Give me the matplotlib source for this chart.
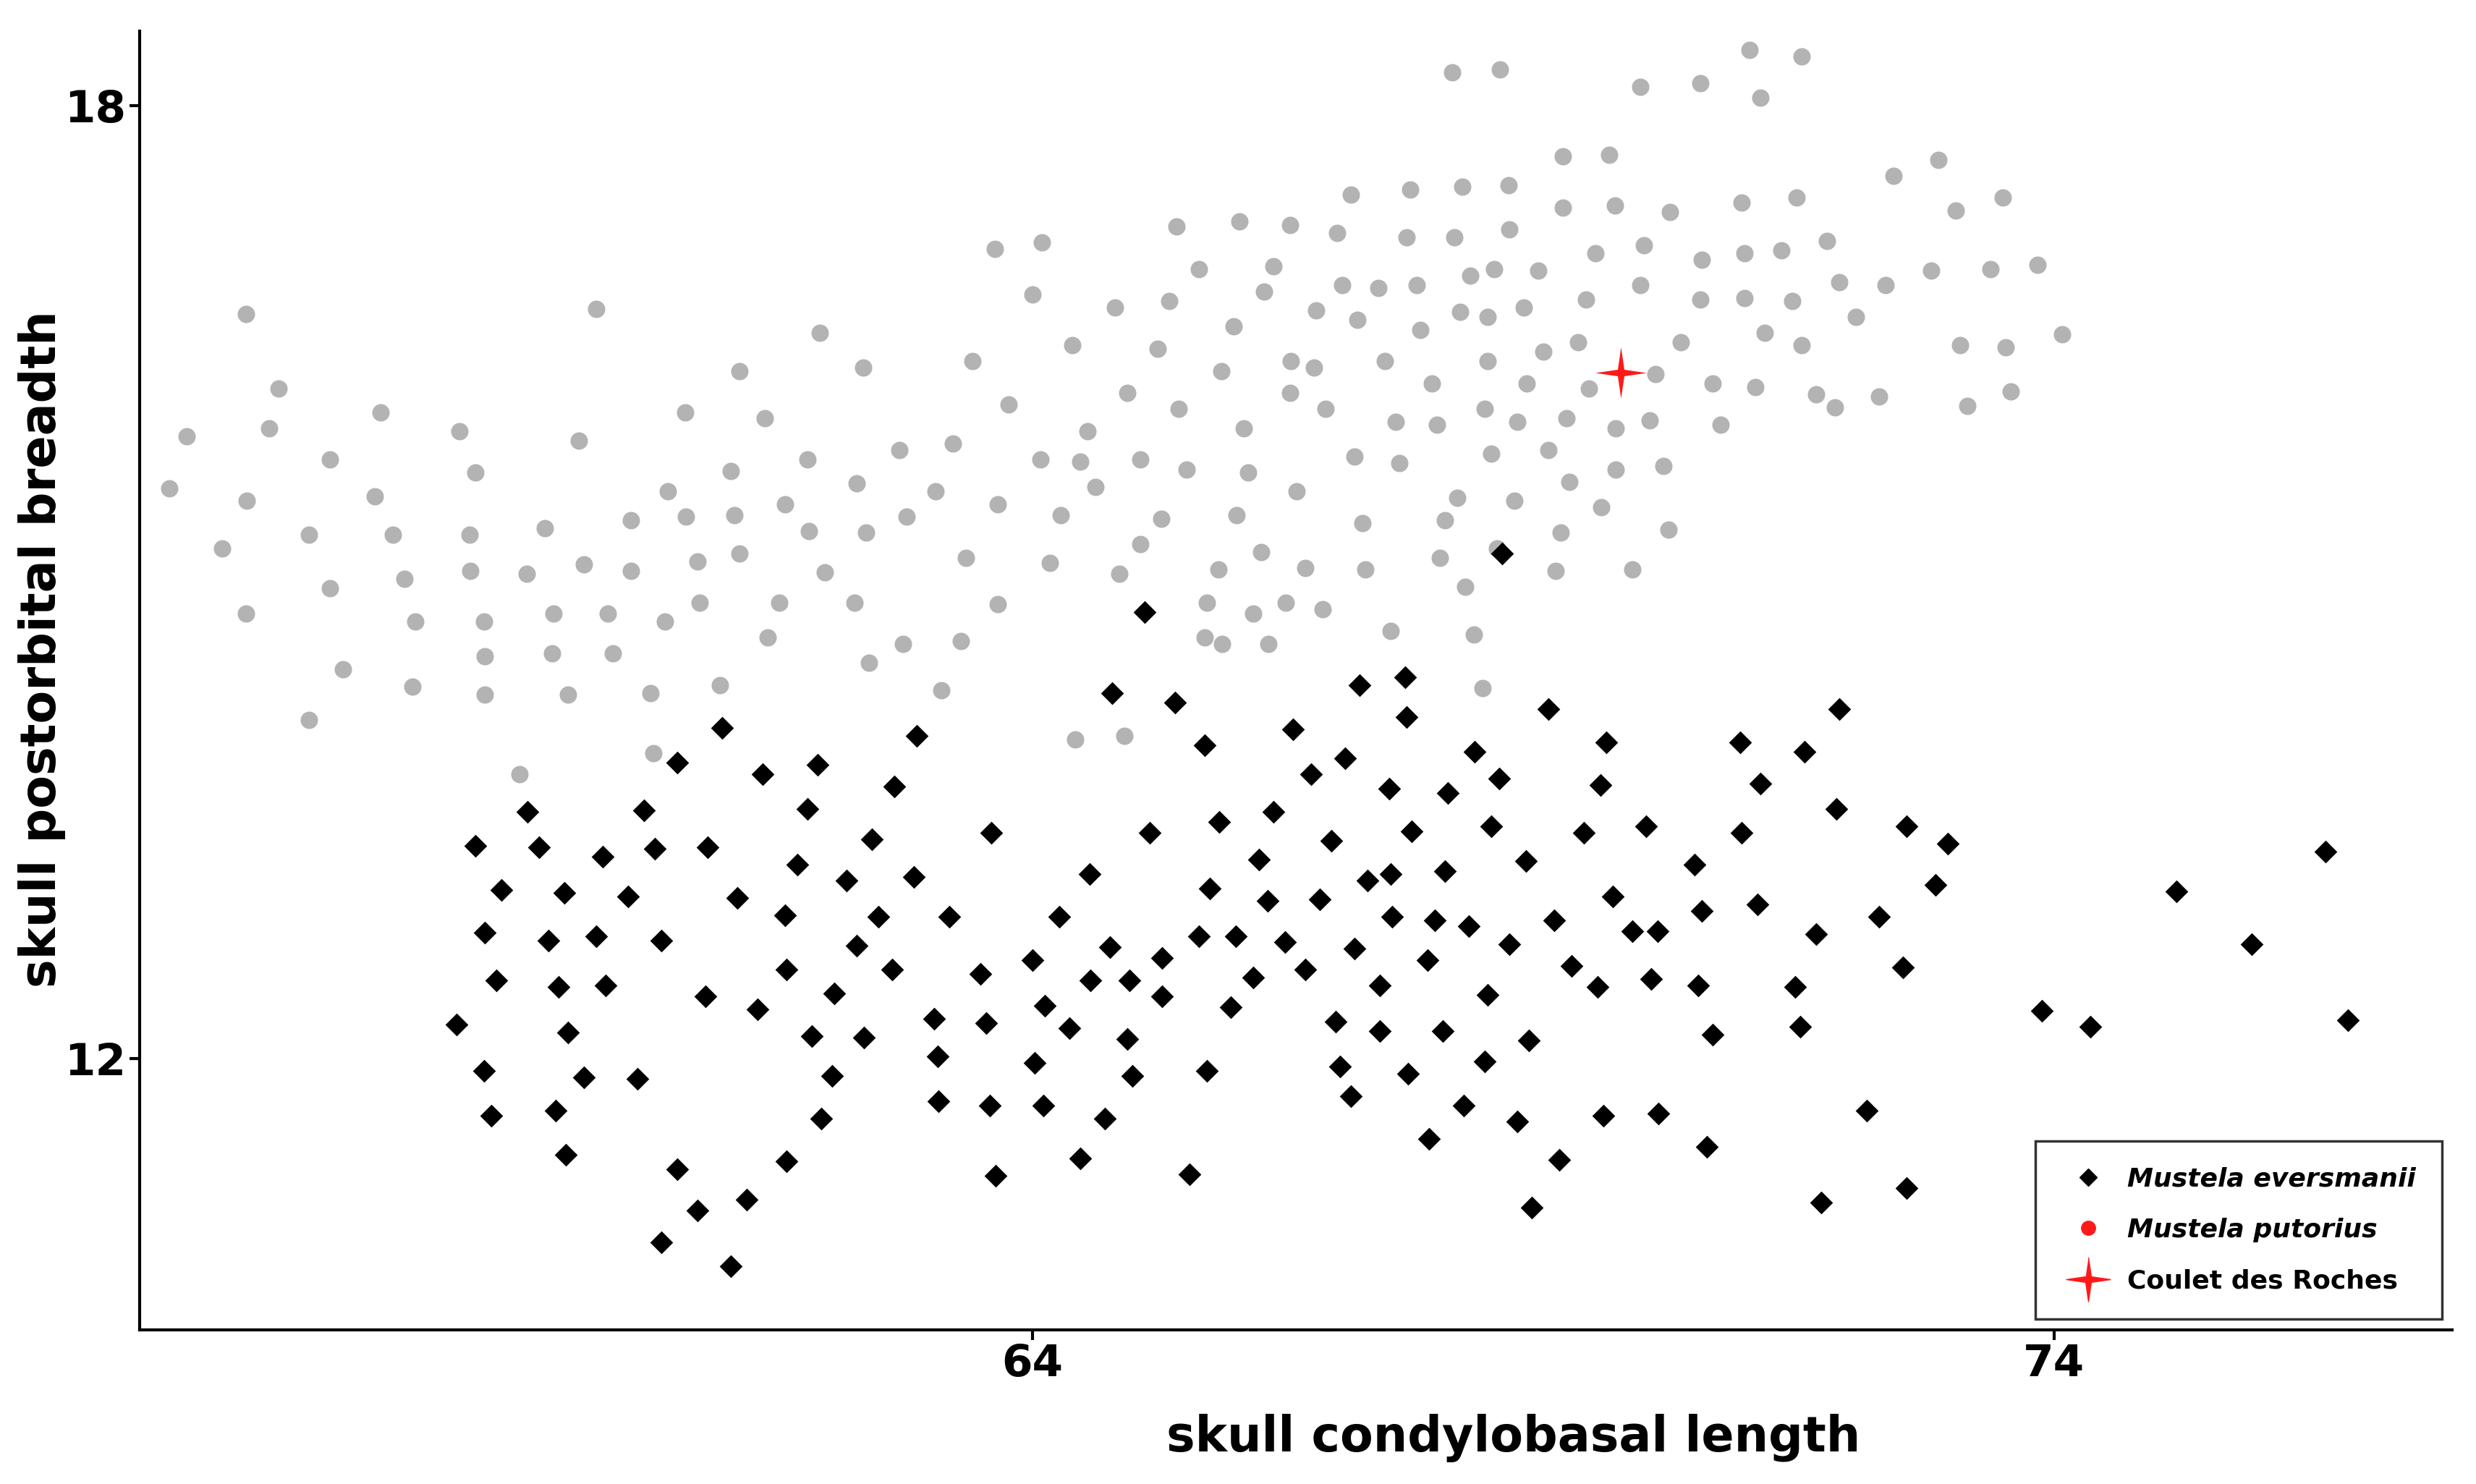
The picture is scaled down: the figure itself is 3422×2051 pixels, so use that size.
import numpy as np
import matplotlib.pyplot as plt
from matplotlib.lines import Line2D

# --- DATEN ---
putorius_x = [55.55, 55.72, 56.07, 56.30, 56.31, 56.30, 56.53, 56.62, 56.92, 56.92, 57.12, 57.12, 57.25, 57.56,
              57.62, 57.74, 57.85, 57.93, 57.96, 58.39, 58.49, 58.50, 58.55, 58.63, 58.64, 58.64, 58.98, 59.05,
              59.23, 59.31, 59.30, 59.45, 59.56, 59.61, 59.73, 59.84, 59.89, 60.07, 60.07, 60.26, 60.29, 60.40,
              60.43, 60.60, 60.61, 60.72, 60.74, 60.94, 61.05, 61.08, 61.13, 61.13, 61.38, 61.41, 61.52, 61.58,
              61.80, 61.81, 61.92, 61.97, 62.26, 62.28, 62.34, 62.37, 62.40, 62.70, 62.73, 62.77, 63.05, 63.11,
              63.22, 63.30, 63.35, 63.41, 63.63, 63.66, 63.66, 63.77, 64.00, 64.08, 64.09, 64.17, 64.28, 64.39,
              64.42, 64.47, 64.54, 64.62, 64.81, 64.85, 64.90, 64.93, 65.06, 65.06, 65.23, 65.26, 65.34, 65.41,
              65.43, 65.51, 65.63, 65.71, 65.69, 65.82, 65.85, 65.86, 65.97, 66.00, 66.03, 66.07, 66.11, 66.16,
              66.24, 66.27, 66.31, 66.36, 66.48, 66.52, 66.52, 66.53, 66.59, 66.67, 66.76, 66.78, 66.84, 66.87,
              66.98, 67.03, 67.12, 67.15, 67.18, 67.23, 67.26, 67.39, 67.45, 67.51, 67.56, 67.59, 67.66, 67.70,
              67.76, 67.80, 67.91, 67.96, 67.99, 68.04, 68.11, 68.13, 68.16, 68.19, 68.21, 68.24, 68.29, 68.32,
              68.41, 68.43, 68.46, 68.46, 68.49, 68.52, 68.55, 68.58, 68.66, 68.67, 68.72, 68.75, 68.81, 68.84,
              68.95, 69.00, 69.05, 69.12, 69.17, 69.19, 69.19, 69.23, 69.26, 69.34, 69.42, 69.45, 69.51, 69.57,
              69.65, 69.70, 69.71, 69.71, 69.87, 69.95, 69.95, 69.99, 70.04, 70.10, 70.18, 70.23, 70.24, 70.35,
              70.54, 70.54, 70.55, 70.66, 70.74, 70.94, 70.97, 70.97, 71.02, 71.08, 71.13, 71.17, 71.33, 71.44,
              71.48, 71.53, 71.53, 71.67, 71.78, 71.86, 71.90, 72.06, 72.29, 72.35, 72.43, 72.80, 72.87, 73.04,
              73.08, 73.15, 73.38, 73.50, 73.53, 73.58, 73.84, 74.08]
putorius_y = [15.59, 15.92, 15.21, 16.69, 15.51, 14.80, 15.97, 16.22, 15.30, 14.13, 15.77, 14.96, 14.45, 15.54,
              16.07, 15.30, 15.02, 14.34, 14.75, 15.95, 15.30, 15.07, 15.69, 14.75, 14.53, 14.29, 13.79, 15.05,
              15.34, 14.80, 14.55, 14.29, 15.89, 15.11, 16.72, 14.80, 14.55, 15.39, 15.07, 14.30, 13.92, 14.75,
              15.57, 16.07, 15.41, 15.13, 14.87, 14.35, 15.70, 15.42, 15.18, 16.33, 16.03, 14.65, 14.87, 15.49,
              15.77, 15.32, 16.57, 15.06, 14.87, 15.62, 16.35, 15.31, 14.49, 15.83, 14.61, 15.41, 15.57, 14.32,
              15.87, 14.63, 15.15, 16.39, 17.10, 14.86, 15.49, 16.12, 16.81, 15.77, 17.14, 15.12, 15.42, 16.49,
              14.01, 15.76, 15.95, 15.60, 16.73, 15.05, 14.03, 16.19, 15.77, 15.24, 16.47, 15.40, 16.77, 17.24,
              16.09, 15.71, 16.97, 14.87, 14.65, 15.08, 16.33, 14.61, 16.61, 15.42, 17.27, 15.97, 15.69, 14.80,
              15.19, 16.83, 14.61, 16.99, 14.87, 17.25, 16.19, 16.39, 15.57, 15.09, 16.35, 16.71, 14.83, 16.09,
              17.20, 16.87, 17.44, 15.79, 16.65, 15.37, 15.08, 16.85, 16.39, 14.69, 16.01, 15.75, 17.17, 17.47,
              16.87, 16.59, 16.25, 15.99, 15.15, 15.39, 18.21, 17.17, 15.53, 16.70, 17.49, 14.97, 16.93, 14.67,
              14.33, 16.09, 16.39, 16.67, 15.81, 16.97, 15.21, 18.23, 17.50, 17.22, 15.51, 16.01, 16.73, 16.25,
              16.96, 16.45, 15.83, 15.07, 15.31, 17.68, 17.36, 16.03, 15.63, 16.51, 16.78, 16.22, 17.07, 15.47,
              17.69, 17.37, 15.71, 15.97, 15.08, 18.12, 16.87, 17.12, 16.02, 16.31, 15.73, 15.33, 17.33, 16.51,
              18.14, 16.78, 17.03, 16.25, 15.99, 17.39, 17.07, 16.79, 18.35, 16.23, 18.05, 16.57, 17.09, 16.77,
              17.42, 18.31, 16.49, 16.18, 17.15, 16.10, 16.89, 16.67, 16.17, 16.87, 17.56, 16.96, 17.66, 17.34,
              16.49, 16.11, 16.97, 17.42, 16.48, 16.20, 17.00, 16.56]

eversmanii_x = [58.36, 58.55, 58.63, 58.64, 58.70, 58.75, 58.80, 59.06, 59.17, 59.26, 59.33, 59.36, 59.42, 59.45,
                59.43, 59.61, 59.73, 59.79, 59.82, 60.04, 60.13, 60.20, 60.30, 60.37, 60.37, 60.52, 60.52, 60.72,
                60.80, 60.82, 60.96, 61.05, 61.11, 61.20, 61.31, 61.36, 61.58, 61.59, 61.59, 61.70, 61.80, 61.84,
                61.90, 61.93, 62.04, 62.06, 62.18, 62.28, 62.35, 62.43, 62.49, 62.65, 62.63, 62.84, 62.87, 63.04,
                63.07, 63.08, 63.19, 63.49, 63.55, 63.58, 63.60, 63.64, 64.00, 64.02, 64.11, 64.12, 64.26, 64.36,
                64.47, 64.56, 64.57, 64.71, 64.76, 64.78, 64.93, 64.95, 64.98, 65.10, 65.15, 65.27, 65.27, 65.40,
                65.54, 65.63, 65.69, 65.71, 65.74, 65.83, 65.94, 65.99, 66.16, 66.22, 66.30, 66.36, 66.47, 66.55,
                66.67, 66.73, 66.81, 66.93, 66.97, 67.01, 67.06, 67.12, 67.15, 67.20, 67.28, 67.40, 67.40, 67.49,
                67.51, 67.52, 67.65, 67.66, 67.68, 67.71, 67.87, 67.88, 67.94, 68.02, 68.04, 68.07, 68.22, 68.27,
                68.33, 68.43, 68.46, 68.49, 68.57, 68.60, 68.67, 68.75, 68.83, 68.86, 68.89, 69.05, 69.11, 69.16,
                69.28, 69.40, 69.53, 69.56, 69.59, 69.62, 69.68, 69.87, 70.01, 70.06, 70.12, 70.13, 70.48, 70.52,
                70.55, 70.60, 70.66, 70.93, 70.94, 71.13, 71.10, 71.47, 71.52, 71.56, 71.67, 71.72, 71.87, 71.90,
                72.17, 72.29, 72.52, 72.56, 72.56, 72.84, 72.96, 73.88, 74.36, 75.20, 75.94, 76.66, 76.88]
eversmanii_y = [12.21, 13.34, 11.92, 12.79, 11.64, 12.49, 13.06, 13.55, 13.33, 12.74, 11.67, 12.45, 13.04, 12.16,
                11.39, 11.88, 12.77, 13.27, 12.46, 13.02, 11.87, 13.56, 13.32, 12.74, 10.84, 11.30, 13.86, 11.04,
                12.39, 13.33, 14.08, 10.69, 13.01, 11.11, 12.31, 13.79, 12.90, 12.56, 11.35, 13.22, 13.57, 12.14,
                13.85, 11.62, 11.89, 12.41, 13.12, 12.71, 12.13, 13.38, 12.89, 13.71, 12.56, 13.14, 14.03, 12.25,
                12.01, 11.73, 12.89, 12.53, 12.22, 11.70, 13.42, 11.26, 12.62, 11.97, 11.70, 12.33, 12.89, 12.19,
                11.37, 13.16, 12.49, 11.62, 12.70, 14.30, 12.12, 12.49, 11.89, 14.81, 13.42, 12.63, 12.39, 14.24,
                11.27, 12.77, 13.97, 11.92, 13.07, 13.49, 12.32, 12.77, 12.51, 13.25, 12.99, 13.55, 12.73, 14.07,
                12.56, 13.79, 13.00, 13.37, 12.23, 11.95, 13.89, 11.76, 12.69, 14.35, 13.12, 12.46, 12.17, 13.70,
                13.16, 12.89, 14.40, 14.15, 11.90, 13.43, 12.62, 11.49, 12.87, 12.17, 13.18, 13.67, 11.70, 12.83,
                13.93, 11.98, 12.40, 13.46, 13.76, 15.18, 12.72, 11.60, 13.24, 12.11, 11.06, 14.20, 12.87, 11.36,
                12.58, 13.42, 12.45, 13.72, 11.64, 13.99, 13.02, 12.80, 13.46, 12.50, 12.80, 11.65, 13.22, 12.46,
                12.93, 11.44, 12.15, 13.99, 13.42, 13.73, 12.97, 12.45, 12.20, 13.93, 12.78, 11.09, 13.57, 14.20,
                11.67, 12.89, 12.57, 13.46, 11.18, 13.09, 13.35, 12.30, 12.20, 13.05, 12.72, 13.30, 12.24]

coulet_x = [69.76]
coulet_y = [16.32]

x_ticks = [64, 74]
y_ticks = [12, 18]

# --- STYLE ---
plt.rcParams['font.family'] = ['DejaVu Sans']
GRAU = "#b3b3b3"
ROT = "#ff1a1a"

# 4-zackiger Stern wie im Original
t = np.linspace(0, 2 * np.pi, 9)[:-1]
r = np.where(np.arange(8) % 2 == 0, 1.0, 0.18)
stern = np.column_stack([r * np.sin(t), r * np.cos(t)])

fig = plt.figure(figsize=(34.22, 20.51), dpi=100)
ax = fig.add_axes([0.0564, 0.104, 0.934, 0.875])

ax.scatter(putorius_x, putorius_y, s=300, color=GRAU, marker="o", linewidths=0, zorder=2)
ax.scatter(eversmanii_x, eversmanii_y, s=260, color="black", marker="D", linewidths=0, zorder=3)
ax.scatter(coulet_x, coulet_y, s=2600, color=ROT, marker=stern, linewidths=0, zorder=4)

ax.set_xlim(55.26, 77.9)
ax.set_ylim(10.29, 18.47)
ax.set_xticks(x_ticks)
ax.set_yticks(y_ticks)
ax.tick_params(axis="both", labelsize=44, width=3, length=10, direction="out")
for lbl in ax.get_xticklabels() + ax.get_yticklabels():
    lbl.set_fontweight("bold")

for s in ["top", "right"]:
    ax.spines[s].set_visible(False)
for s in ["left", "bottom"]:
    ax.spines[s].set_linewidth(3)

ax.set_xlabel("skull condylobasal length", fontsize=48, fontweight="bold")
ax.set_ylabel("skull postorbital breadth", fontsize=48, fontweight="bold")
ax.xaxis.set_label_coords(0.594, -0.065)
ax.yaxis.set_label_coords(-0.032, 0.524)

handles = [
    Line2D([], [], marker="D", color="black", ls="", ms=12, label="Mustela eversmanii"),
    Line2D([], [], marker="o", color=ROT, ls="", ms=14, label="Mustela putorius"),
    Line2D([], [], marker=stern, color=ROT, ls="", ms=44, label="Coulet des Roches"),
]
leg = ax.legend(handles=handles, loc="lower right", bbox_to_anchor=(1.0, 0.0), fontsize=26,
                frameon=True, fancybox=False, edgecolor="black", labelspacing=1.0,
                handletextpad=0.5, borderpad=1.0, borderaxespad=0.4)
leg.get_frame().set_linewidth(2.5)
for i, txt in enumerate(leg.get_texts()):
    txt.set_fontweight("bold")
    if i < 2:
        txt.set_fontstyle("italic")

fig.savefig("out.png", dpi=100)
